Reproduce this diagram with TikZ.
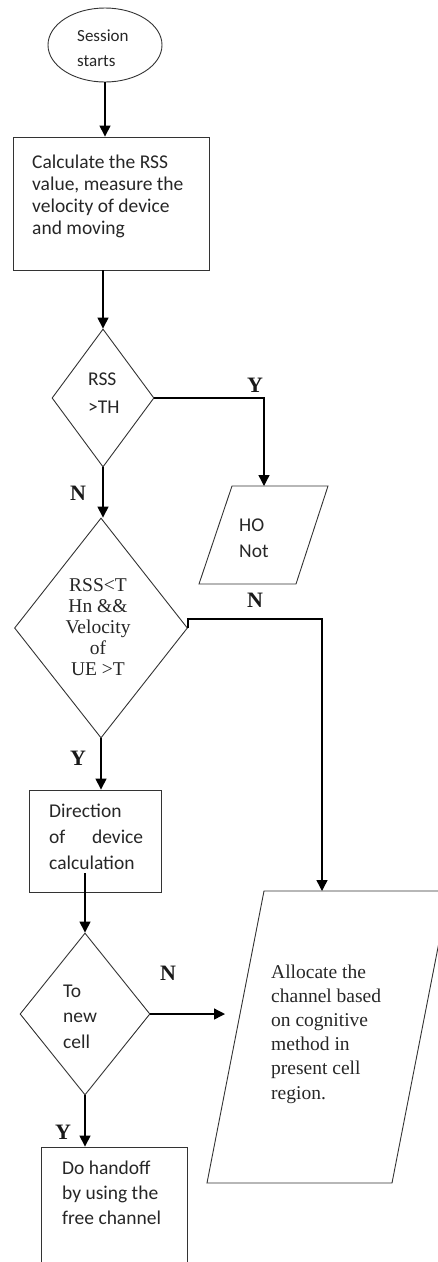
\documentclass[tikz,border=0pt]{standalone}
\usepackage{fontspec}
\setmainfont{Liberation Serif}
\newfontfamily\calib{Carlito}
\usetikzlibrary{shapes.geometric,arrows.meta}
\begin{document}
\begin{tikzpicture}[x=1bp,y=-1bp,
  outl/.style={draw=black!80, line width=0.9bp, inner sep=0pt},
  conn/.style={draw=black, line width=1.4bp, -{Triangle[length=11bp,width=11bp]}},
  sanst/.style={font=\calib\fontsize{19.5bp}{#1}\selectfont, anchor=base west, align=left, inner sep=0pt, text=black!85},
  seriftxt/.style={font=\fontsize{19.5bp}{#1}\selectfont, anchor=base west, align=left, inner sep=0pt, text=black!85},
  yn/.style={font=\fontsize{22bp}{22bp}\selectfont\bfseries, inner sep=0pt, text=black!90}
]
\useasboundingbox (0,0) rectangle (438,1262);

% shapes
\node[outl, ellipse, minimum width=114bp, minimum height=74bp] (start) at (105,45) {};
\node[outl, rectangle, minimum width=196bp, minimum height=133bp] (calc) at (111,203.5) {};
\node[outl, diamond, minimum width=102bp, minimum height=138bp] (d1) at (103,398) {};
\coordinate (hoA) at (232,486);
\coordinate (hoB) at (328,486);
\coordinate (hoC) at (296,584);
\coordinate (hoD) at (199,584);
\draw[outl] (hoA) -- (hoB) -- (hoC) -- (hoD) -- cycle;
\node[outl, diamond, minimum width=173bp, minimum height=220bp] (d2) at (101,628) {};
\node[outl, rectangle, minimum width=132bp, minimum height=102bp] (dir) at (95,841) {};
\node[outl, diamond, minimum width=130bp, minimum height=162bp] (d3) at (85,1014) {};
\coordinate (alA) at (264,891);
\coordinate (alB) at (449,891);
\coordinate (alC) at (392,1183);
\coordinate (alD) at (207,1183);
\draw[outl] (alA) -- (alB) -- (alC) -- (alD) -- cycle;
\node[outl, rectangle, minimum width=146bp, minimum height=140bp] (done) at (114,1217) {};

% texts (anchor = baseline of the last line)
\node[sanst=25bp, font=\calib\fontsize{17bp}{25bp}\selectfont] (tstart) at (77,66) {Session\\starts};
\node[sanst=21.7bp] (tcalc) at (32,234) {Calculate the RSS\\value, measure the\\velocity of device\\and moving};
\node[sanst=28bp] (td1) at (88,413) {RSS\\>TH};
\node[sanst=26bp] (tho) at (239,557) {HO\\Not};
\node[seriftxt=21bp, align=center, anchor=base] (td2) at (98,675) {RSS<T\\Hn \&\&\\Velocity\\of\\UE >T};
\node[sanst=26bp] (tdir) at (49,869) {Direction\\\makebox[94bp][l]{of\hfill device}\\calculation};
\node[sanst=25.5bp] (td3) at (63,1048) {To\\new\\cell};
\node[seriftxt=24.2bp] (talloc) at (271,1099) {Allocate the\\channel based\\on cognitive\\method in\\present cell\\region.};
\node[sanst=25bp] (tdone) at (62,1224) {Do handoff\\by using the\\free channel};

% connectors
\coordinate (hoin) at (264,486);
\coordinate (allocin) at (322,891);
\coordinate (n3end) at (225,1014);
\draw[conn] (start.south) -- (start.south |- calc.north);
\draw[conn] (d1.north |- calc.south) -- (d1.north);
\draw[conn] (d1.south) -- (d1.south |- d2.north);
\draw[conn] (d1.east) -| (hoin);
\draw[conn] (d2.east) -- ++(0,-9) -| (allocin);
\draw[conn] (d2.south) -- (d2.south |- dir.north);
\draw[conn] ([yshift=19bp]dir.south -| d3.north) -- (d3.north);
\draw[conn] (d3.east) -- (n3end);
\draw[conn] (d3.south) -- (d3.south |- done.north);

% labels
\node[yn] (ly1) at (255,385) {Y};
\node[yn] (ln1) at (78,493) {N};
\node[yn] (ln2) at (255,600) {N};
\node[yn] (ly2) at (78,758) {Y};
\node[yn] (ln3) at (168,973) {N};
\node[yn] (ly3) at (63,1132) {Y};
\end{tikzpicture}
\end{document}
